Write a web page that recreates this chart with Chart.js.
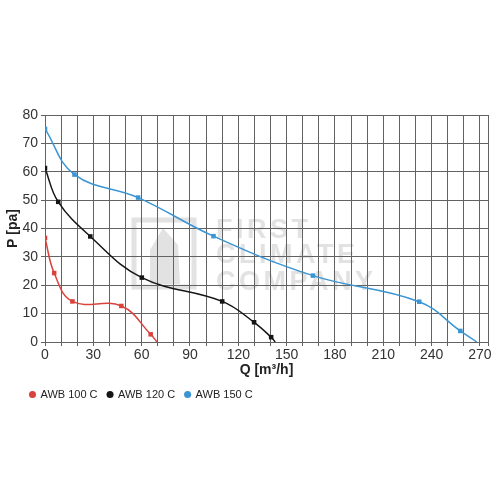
<!DOCTYPE html>
<html>
<head>
<meta charset="utf-8">
<script src="https://cdn.jsdelivr.net/npm/chart.js@4"></script>
<style>
  html, body { margin: 0; padding: 0; background: #fff; }
  #wrap { width: 500px; height: 500px; }
</style>
</head>
<body>
<div id="wrap"><canvas id="c" width="500" height="500"></canvas></div>
<script>
const seriesNames = ['AWB 100 C', 'AWB 120 C', 'AWB 150 C'];
const qRed   = [0, 5.7, 17, 47.4, 65.6, 69.5];
const pRed   = [36.7, 24.3, 14.3, 12.7, 2.7, 0];
const qBlack = [0, 8.2, 28.1, 60.1, 110, 129.8, 140.4, 142.9];
const pBlack = [61.3, 49.4, 37.2, 22.7, 14.3, 6.95, 1.7, 0];
const qBlue  = [0, 18.3, 57.8, 104.6, 166.3, 232.3, 257.8, 268];
const pBlue  = [75.1, 59, 50.9, 37.3, 23.4, 14.2, 3.9, 0];
const xTickValues = [0,10,20,30,40,50,60,70,80,90,100,110,120,130,140,150,160,170,180,190,200,210,220,230,240,250,260,270,275];
const xLabelValues = [0,30,60,90,120,150,180,210,240,270];
const yTickValues = [0,10,20,30,40,50,60,70,80];
const xTitle = 'Q [m³/h]';
const yTitle = 'P [pa]';
const watermark = ['FIRST', 'CLIMATE', 'COMPANY'];

const FONT = "'Liberation Sans', Arial, sans-serif";
const colors = ['#d8433d', '#151515', '#3a95d3'];
const GRID = '#626262';

function pts(q, p) { return q.map((v, i) => ({x: v, y: p[i]})); }

function ds(name, q, p, color) {
  return {
    label: name,
    data: pts(q, p),
    borderColor: color,
    backgroundColor: color,
    borderWidth: 1.5,
    tension: 0.4,
    pointStyle: 'rect',
    pointRadius: ctx => ctx.dataIndex === q.length - 1 ? 0 : 3.2,
    pointHoverRadius: 3.2,
    pointBorderWidth: 0,
    fill: false
  };
}

const watermarkPlugin = {
  id: 'wm',
  afterLayout(chart) {
    const lg = chart.legend;
    if (lg) { lg.left += 18; lg.right += 18; }
  },
  beforeDraw(chart) {
    const ctx = chart.ctx;
    ctx.save();
    ctx.fillStyle = '#e2e2e2';
    ctx.strokeStyle = '#e2e2e2';
    ctx.lineWidth = 5;
    ctx.strokeRect(134, 220, 60, 67);
    ctx.beginPath();
    ctx.moveTo(150, 284); ctx.lineTo(150, 250); ctx.lineTo(163, 228); ctx.lineTo(178, 245); ctx.lineTo(180, 284);
    ctx.closePath();
    ctx.fill();
    ctx.font = "bold 27px 'Liberation Sans', Arial, sans-serif";
    try { ctx.letterSpacing = '3.5px'; } catch (e) {}
    ctx.textBaseline = 'alphabetic';
    ctx.textAlign = 'left';
    ctx.fillText(watermark[0], 216, 238);
    ctx.fillText(watermark[1], 216, 263);
    ctx.fillText(watermark[2], 216, 290);
    ctx.restore();
  }
};

new Chart(document.getElementById('c'), {
  type: 'line',
  data: {
    datasets: [
      ds(seriesNames[0], qRed, pRed, colors[0]),
      ds(seriesNames[1], qBlack, pBlack, colors[1]),
      ds(seriesNames[2], qBlue, pBlue, colors[2])
    ]
  },
  options: {
    responsive: false,
    animation: false,
    devicePixelRatio: 1,
    layout: { padding: { top: 115, right: 12, bottom: 90, left: 2 } },
    plugins: {
      legend: {
        position: 'bottom',
        align: 'start',
        labels: {
          usePointStyle: true,
          pointStyle: 'circle',
          boxWidth: 5,
          boxHeight: 5,
          padding: 10,
          color: '#222',
          font: { family: FONT, size: 11 }
        }
      },
      tooltip: { enabled: false }
    },
    scales: {
      x: {
        type: 'linear',
        min: 0,
        max: 275,
        afterBuildTicks: axis => { axis.ticks = xTickValues.map(v => ({value: v})); },
        afterFit: s => { s.height = 37; },
        ticks: {
          autoSkip: false,
          maxRotation: 0,
          padding: 1,
          color: '#333',
          font: { family: FONT, size: 14 },
          callback: v => xLabelValues.includes(v) ? String(v) : ''
        },
        grid: { color: GRID, lineWidth: 1, tickLength: 4, drawTicks: true },
        border: { color: GRID, width: 1 },
        title: {
          display: true,
          text: xTitle,
          color: '#222',
          font: { family: FONT, size: 14, weight: 'bold' },
          padding: { top: 0, bottom: 0 }
        }
      },
      y: {
        type: 'linear',
        min: 0,
        max: 80,
        afterBuildTicks: axis => { axis.ticks = yTickValues.map(v => ({value: v})); },
        afterFit: s => { s.width = 43; },
        ticks: {
          padding: 3,
          color: '#333',
          font: { family: FONT, size: 14 }
        },
        grid: { color: GRID, lineWidth: 1, tickLength: 4, drawTicks: true },
        border: { color: GRID, width: 1 },
        title: {
          display: true,
          text: yTitle,
          color: '#222',
          font: { family: FONT, size: 14, weight: 'bold' },
          padding: { top: 3, bottom: 0 }
        }
      }
    }
  },
  plugins: [watermarkPlugin]
});
</script>
</body>
</html>
